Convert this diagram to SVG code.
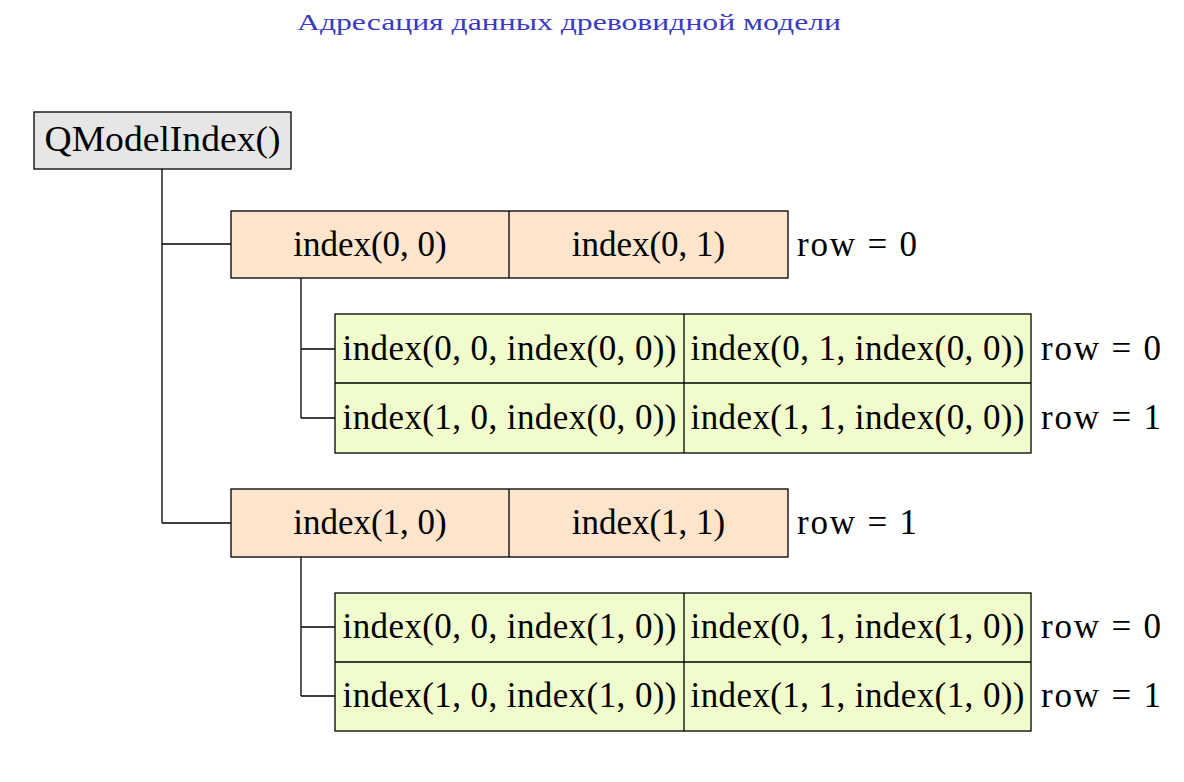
<svg xmlns="http://www.w3.org/2000/svg" width="1184" height="782" viewBox="0 0 1184 782">
<style>
.t{font-size:35px;fill:#000;}
.c{text-anchor:middle;}
.title{font-size:24px;fill:#3a3ac4;text-anchor:middle;}
.box{stroke:#000;stroke-width:1.3;}
.root{fill:#e6e6e6;}
.or{fill:#fde4cc;}
.gr{fill:#f0fccc;}
.ln{stroke:#000;stroke-width:1.3;fill:none;}
</style>
<rect width="1184" height="782" fill="#fff"/>
<text class="title" font-family="Liberation Serif" x="569" y="30" textLength="544" lengthAdjust="spacingAndGlyphs">Адресация данных древовидной модели</text>

<g id="connectors">
<path class="ln" d="M162,169 V523 M162,244 H231 M162,523 H231"/>
<path class="ln" d="M301,278 V418 M301,349 H335 M301,418 H335"/>
<path class="ln" d="M301,557 V696 M301,627 H335 M301,696 H335"/>
</g>

<g id="root">
<rect class="box root" x="34" y="112" width="257" height="57"/>
<text class="t c" font-family="Liberation Serif" x="162.5" y="151" textLength="236" lengthAdjust="spacingAndGlyphs">QModelIndex()</text>
</g>

<g id="row0">
<rect class="box or" x="231" y="211" width="557" height="67"/>
<line class="ln" x1="509" y1="211" x2="509" y2="278"/>
<text class="t c" font-family="Liberation Serif" x="370" y="256">index(0, 0)</text>
<text class="t c" font-family="Liberation Serif" x="648.5" y="256">index(0, 1)</text>
<text class="t" font-family="Liberation Serif" x="797" y="256" textLength="120">row = 0</text>
</g>

<g id="children0">
<rect class="box gr" x="335" y="314" width="696" height="139"/>
<line class="ln" x1="335" y1="383" x2="1031" y2="383"/>
<line class="ln" x1="684" y1="314" x2="684" y2="453"/>
<text class="t c" font-family="Liberation Serif" x="509.5" y="360" textLength="334">index(0, 0, index(0, 0))</text>
<text class="t c" font-family="Liberation Serif" x="857.5" y="360" textLength="334">index(0, 1, index(0, 0))</text>
<text class="t c" font-family="Liberation Serif" x="509.5" y="429" textLength="334">index(1, 0, index(0, 0))</text>
<text class="t c" font-family="Liberation Serif" x="857.5" y="429" textLength="334">index(1, 1, index(0, 0))</text>
<text class="t" font-family="Liberation Serif" x="1041" y="360" textLength="120">row = 0</text>
<text class="t" font-family="Liberation Serif" x="1041" y="429" textLength="120">row = 1</text>
</g>

<g id="row1">
<rect class="box or" x="231" y="489" width="557" height="68"/>
<line class="ln" x1="509" y1="489" x2="509" y2="557"/>
<text class="t c" font-family="Liberation Serif" x="370" y="534">index(1, 0)</text>
<text class="t c" font-family="Liberation Serif" x="648.5" y="534">index(1, 1)</text>
<text class="t" font-family="Liberation Serif" x="797" y="534" textLength="120">row = 1</text>
</g>

<g id="children1">
<rect class="box gr" x="335" y="593" width="696" height="138"/>
<line class="ln" x1="335" y1="662" x2="1031" y2="662"/>
<line class="ln" x1="684" y1="593" x2="684" y2="731"/>
<text class="t c" font-family="Liberation Serif" x="509.5" y="638" textLength="334">index(0, 0, index(1, 0))</text>
<text class="t c" font-family="Liberation Serif" x="857.5" y="638" textLength="334">index(0, 1, index(1, 0))</text>
<text class="t c" font-family="Liberation Serif" x="509.5" y="707" textLength="334">index(1, 0, index(1, 0))</text>
<text class="t c" font-family="Liberation Serif" x="857.5" y="707" textLength="334">index(1, 1, index(1, 0))</text>
<text class="t" font-family="Liberation Serif" x="1041" y="638" textLength="120">row = 0</text>
<text class="t" font-family="Liberation Serif" x="1041" y="707" textLength="120">row = 1</text>
</g>
</svg>
